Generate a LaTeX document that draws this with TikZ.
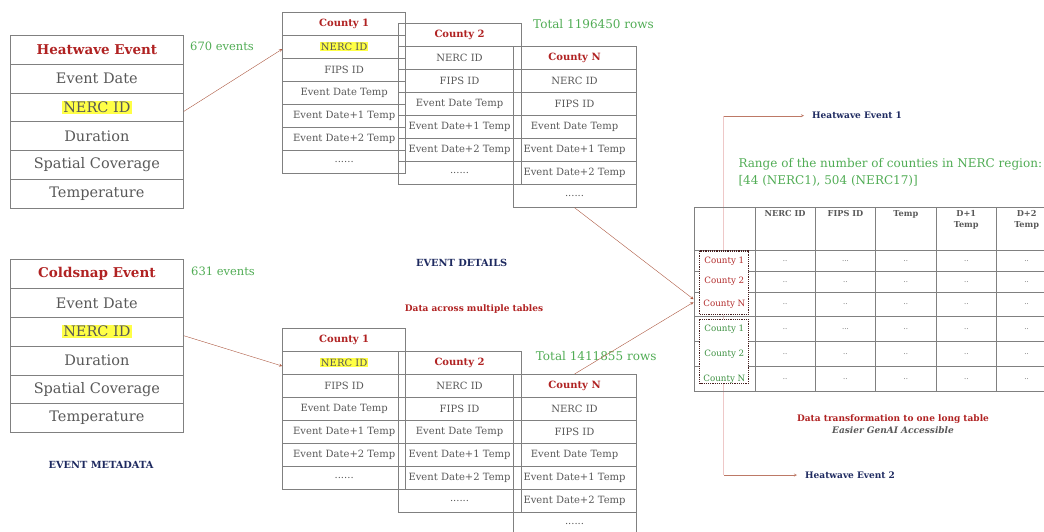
\documentclass[tikz,border=0pt]{standalone}
\usepackage{fontspec}
\setmainfont{DejaVu Serif}
\usepackage{xcolor}
\usepackage{tikz}
\usetikzlibrary{arrows, positioning, calc}

\definecolor{titlered}{RGB}{176,34,34}
\definecolor{cntgreen}{RGB}{80,172,84}
\definecolor{txtgray}{RGB}{88,88,88}
\definecolor{gridgray}{RGB}{128,128,128}
\definecolor{navy}{RGB}{30,42,96}
\definecolor{hlyellow}{RGB}{255,255,70}
\definecolor{linkred}{RGB}{172,88,64}
\definecolor{palepink}{RGB}{238,200,200}
\definecolor{dotbrown}{RGB}{70,30,30}
\definecolor{redlab}{RGB}{178,44,44}
\definecolor{greenlab}{RGB}{62,145,66}

\tikzstyle{linkarrow} = [thin,->,>=stealth,draw=linkred]
\tikzstyle{evrow} = [draw=gridgray, line width=0.8pt, minimum width=173pt, minimum height=28.8pt, inner sep=0pt, anchor=north west, text=txtgray, font=\fontsize{14.5}{16}\selectfont]
\tikzstyle{evhead} = [evrow, text=titlered, font=\bfseries\fontsize{13.5}{16}\selectfont]
\tikzstyle{ctrow} = [draw=gridgray, line width=0.7pt, minimum width=123pt, minimum height=23pt, inner sep=0pt, anchor=north west, text=txtgray, font=\fontsize{10}{12}\selectfont]
\tikzstyle{cthead} = [ctrow, text=titlered, font=\bfseries\fontsize{10}{12}\selectfont]
\tikzstyle{ltcell} = [draw=gridgray, line width=0.7pt, minimum width=60.4pt, inner sep=0pt, anchor=north west, text=txtgray, font=\fontsize{7}{8}\selectfont]
\tikzstyle{lthd} = [anchor=north, inner sep=4pt, align=center, text=txtgray, font=\bfseries\fontsize{8.2}{11}\selectfont]
\tikzstyle{dotbox} = [draw=dotbrown, densely dotted, line width=1.2pt, fill=white]
\tikzstyle{count} = [anchor=west, inner sep=0pt, text=cntgreen, font=\fontsize{11.5}{14}\selectfont]
\tikzstyle{caption} = [text=navy, font=\bfseries\fontsize{9.8}{12}\selectfont]

\newcommand{\hlt}[1]{{\setlength{\fboxsep}{1pt}\colorbox{hlyellow}{#1}}}
\newcommand{\dsix}{......}
\newcommand{\dthree}{...}
\newcommand{\dtwo}{..}

% event metadata table: name, top y, title
\newcommand{\eventtable}[3]{%
  \node[evhead] (#1-0) at (10,#2) {#3};
  \foreach \txt [count=\i] in {Event Date, \hlt{NERC ID}, Duration, Spatial Coverage, Temperature}
    \node[evrow] (#1-\i) at (10,{#2+28.8*\i}) {\txt};
}

% county table: name, left x, top y, title, nerc cell
\newcommand{\countytable}[5]{%
  \node[cthead] (#1-0) at (#2,#3) {#4};
  \foreach \txt [count=\i] in {#5, FIPS ID, Event Date Temp, Event Date+1 Temp, Event Date+2 Temp, \dsix}
    \node[ctrow] (#1-\i) at (#2,{#3+23*\i}) {\txt};
}

\begin{document}
\begin{tikzpicture}[x=1pt, y=-1pt]
\useasboundingbox (0,0) rectangle (1044,531);

% Event metadata
\eventtable{hw}{35}{Heatwave Event}
\eventtable{cs}{259.3}{Coldsnap Event}
\node[count] (hwcount) at (190,46) {670 events};
\node[count] (cscount) at (191,271) {631 events};
\node[caption] (meta) at (101,465) {EVENT METADATA};

% Event details, heatwave
\countytable{ta}{282.3}{11.7}{County 1}{\hlt{NERC ID}}
\countytable{tb}{397.7}{22.7}{County 2}{NERC ID}
\countytable{tn}{512.7}{46}{County N}{NERC ID}
\node[count, font=\fontsize{12}{14}\selectfont] (hwtotal) at (533,24) {Total 1196450 rows};

% Event details, coldsnap
\countytable{ca}{282.3}{327.7}{County 1}{\hlt{NERC ID}}
\countytable{cb}{397.7}{350.7}{County 2}{NERC ID}
\countytable{cn}{512.7}{374}{County N}{NERC ID}
\node[count, font=\fontsize{12}{14}\selectfont] (cstotal) at (535.7,356) {Total 1411855 rows};

\node[caption] (details) at (461.7,262.7) {EVENT DETAILS};
\node[text=titlered, font=\bfseries\fontsize{9}{11}\selectfont] (across) at (474,309.3) {Data across multiple tables};

% Split line to events
\coordinate (ev1corner) at (723.8,115.7);
\coordinate (ev2corner) at (723.8,475);
\draw[palepink, line width=0.8pt] (ev1corner) -- (ev2corner);
\node[anchor=west, inner xsep=8pt, text=navy, font=\bfseries\fontsize{9}{11}\selectfont] (ev1) at (804,115.7) {Heatwave Event 1};
\node[anchor=west, inner xsep=8pt, text=navy, font=\bfseries\fontsize{9}{11}\selectfont] (ev2) at (797,475) {Heatwave Event 2};
\draw[linkarrow, draw=linkred!80] (ev1corner) -- (ev1.west);
\draw[linkarrow, draw=linkred!80] (ev2corner) -- (ev2.west);

% Long table
\node[ltcell, minimum width=61pt, minimum height=43.8pt] (lt-0) at (693.5,206.5) {};
\foreach \xx/\hd [count=\c] in {754.5/NERC ID, 814.9/FIPS ID, 875.3/Temp, 935.7/D+1\\Temp, 996.1/D+2\\Temp} {
  \node[ltcell, minimum height=43.8pt] (lt-\c) at (\xx,206.5) {};
  \node[lthd] at (lt-\c.north) {\hd};
}
\foreach \yy/\hh/\fips [count=\r] in {250.3/20.7/\dthree, 271/20.7/\dtwo, 291.7/24.3/\dtwo, 316/25/\dthree, 341/25.3/\dtwo, 366.3/25/\dtwo} {
  \node[ltcell, minimum width=61pt, minimum height=\hh pt] (r\r-0) at (693.5,\yy) {};
  \node[ltcell, minimum height=\hh pt] (r\r-1) at (754.5,\yy) {\dtwo};
  \node[ltcell, minimum height=\hh pt] (r\r-2) at (814.9,\yy) {\fips};
  \foreach \xx [count=\c from 3] in {875.3, 935.7, 996.1}
    \node[ltcell, minimum height=\hh pt] (r\r-\c) at (\xx,\yy) {\dtwo};
}
\draw[dotbox] ([xshift=6pt,yshift=-0.7pt]r1-0.north west) rectangle ([xshift=-7pt,yshift=2pt]r3-0.south east);
\draw[dotbox] ([xshift=6pt,yshift=-3.3pt]r4-0.north west) rectangle ([xshift=-7pt,yshift=8.6pt]r6-0.south east);
\foreach \lab/\clr [count=\r] in {County 1/redlab, County 2/redlab, County N/redlab, County 1/greenlab, County 2/greenlab, County N/greenlab}
  \node[text=\clr, inner sep=0pt, font=\fontsize{8.7}{10}\selectfont] (lab\r) at (r\r-0) {\lab};

\node[anchor=west, inner sep=0pt, align=left, text=cntgreen, font=\fontsize{12}{16.7}\selectfont] (range) at (738.3,172.3) {Range of the number of counties in NERC region:\\{[44 (NERC1), 504 (NERC17)]}};
\node[align=center, font=\fontsize{9}{12}\selectfont] (transform) at (893,424) {\textcolor{titlered}{\bfseries Data transformation to one long table}\\\textcolor{txtgray}{\bfseries\itshape Easier GenAI Accessible}};

% Links
\draw[linkarrow] ([yshift=-4pt]hw-2.east) -- ([yshift=-2.5pt]ta-1.west);
\draw[linkarrow] ([yshift=-4pt]cs-2.east) -- ([yshift=-3.5pt]ca-1.west);
\draw[linkarrow] (tn-6.south) -- ([yshift=5pt]r3-0.west);
\draw[linkarrow] (cn-0.north) -- ([yshift=2pt]r3-0.west);
\end{tikzpicture}
\end{document}
